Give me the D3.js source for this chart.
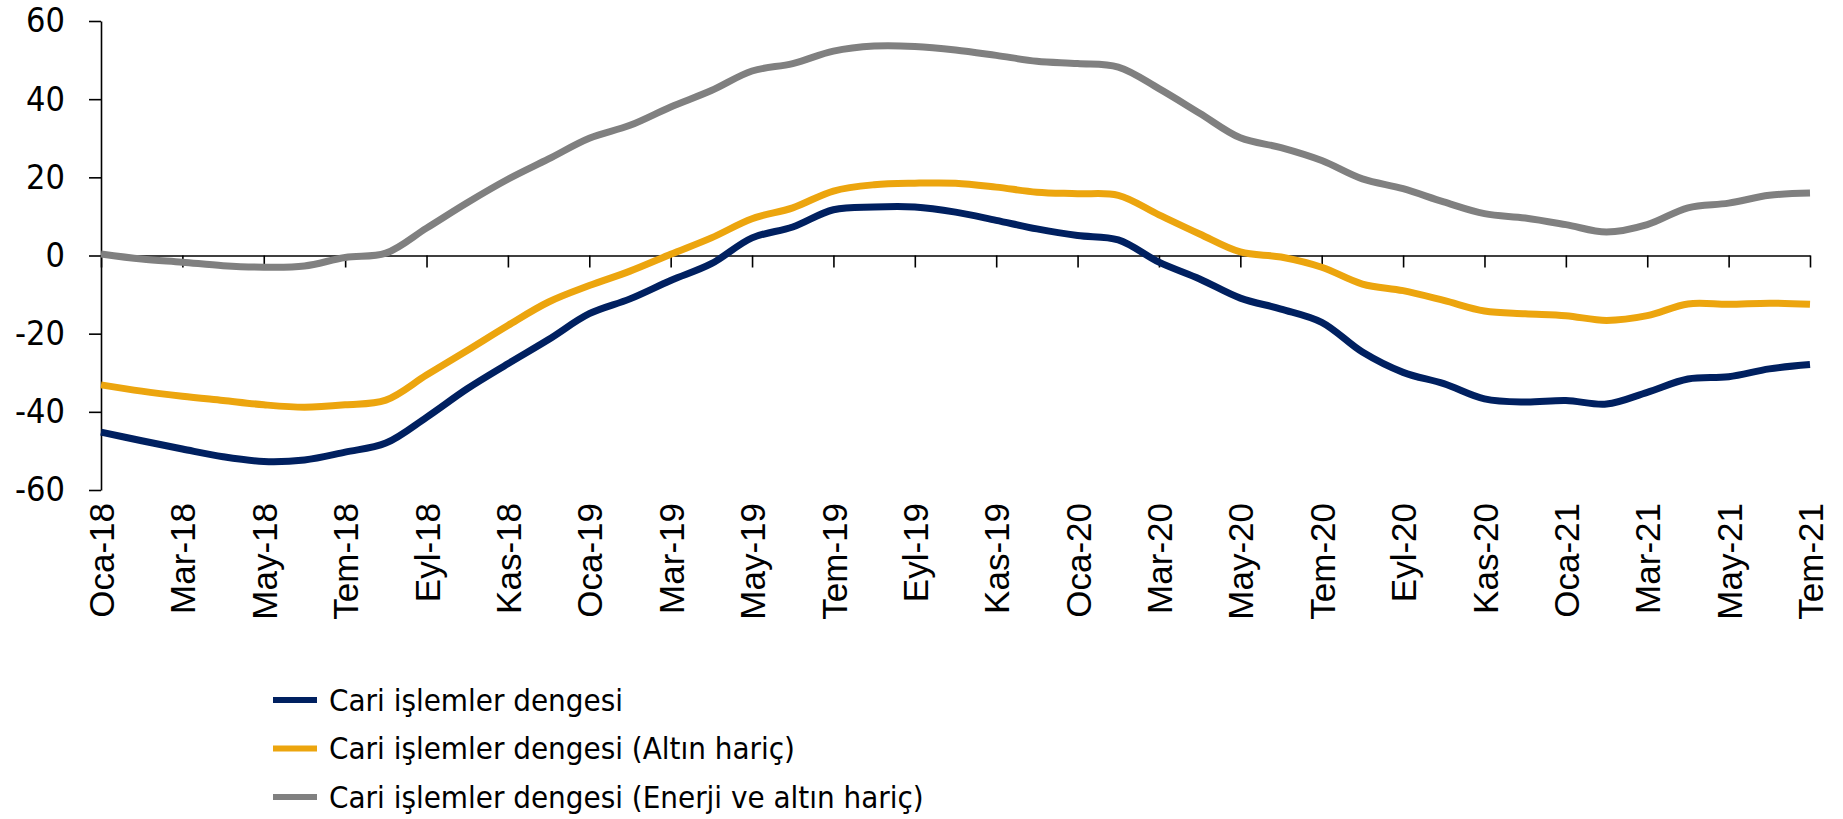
<!DOCTYPE html>
<html>
<head>
<meta charset="utf-8">
<script src="https://cdn.jsdelivr.net/npm/d3@7"></script>
<style>
  body { margin: 0; background: #fff; }
</style>
</head>
<body>
<script>
const width = 1843
const height = 819
const margin = ({top: 21, right: 33, bottom: 329, left: 101})

// monthly, Oca-18 .. Tem-21
const monthNames = ["Oca", "Şub", "Mar", "Nis", "May", "Haz", "Tem", "Ağu", "Eyl", "Eki", "Kas", "Ara"]
const months = []
for (let yr = 18; yr <= 21; yr++) {
    for (let m = 0; m < 12; m++) {
        if (yr === 21 && m > 6) break
        months.push(monthNames[m] + "-" + yr)
    }
}

const cari = [-45.2, -47.4, -49.5, -51.5, -52.7, -52.3, -50.3, -48.0, -41.4, -34.1, -27.7,
    -21.5, -14.9, -11.1, -6.4, -2.1, 4.5, 7.3, 11.7, 12.4, 12.4, 11.1, 9.0, 6.8, 5.1, 4.0,
    -1.7, -6.0, -10.9, -13.7, -17.1, -24.7, -29.9, -32.8, -36.7, -37.5, -37.1, -38.0, -35.0,
    -31.6, -31.0, -29.0, -27.9]
const altinHaric = [-33.1, -34.7, -36.0, -37.1, -38.2, -38.8, -38.2, -37.0, -30.6, -24.3, -17.9,
    -11.9, -7.7, -4.0, 0.3, 4.5, 9.4, 12.2, 16.5, 18.1, 18.5, 18.5, 17.5, 16.2, 15.8, 15.4,
    10.4, 5.5, 0.9, -0.4, -3.0, -7.3, -9.0, -11.5, -14.2, -14.9, -15.4, -16.6, -15.4,
    -12.4, -12.5, -12.2, -12.5]
const enerjiAltinHaric = [0.4, -0.9, -1.7, -2.6, -3.0, -2.7, -0.5, 0.6, 7.0, 13.5, 19.5,
    24.7, 30.0, 33.3, 38.0, 42.2, 47.2, 49.1, 52.3, 53.6, 53.5, 52.6, 51.2, 49.7, 49.1, 48.2,
    42.7, 36.4, 30.1, 27.6, 24.3, 19.6, 17.1, 13.7, 10.7, 9.6, 7.9, 6.0, 7.9,
    12.2, 13.4, 15.4, 16.0]

const seriesNames = ["Cari işlemler dengesi", "Cari işlemler dengesi (Altın hariç)", "Cari işlemler dengesi (Enerji ve altın hariç)"]
const seriesColors = ["#002060", "#eca50e", "#808080"]
const yTicks = [-60, -40, -20, 0, 20, 40, 60]

const series = [cari, altinHaric, enerjiAltinHaric]

const svg = d3.select("body").append("svg").attr("width", width).attr("height", height)

let x = d3.scalePoint()
    .domain(months)
    .range([margin.left, width - margin.right])

let y = d3.scaleLinear()
    .domain([-60, 60])
    .range([height - margin.bottom, margin.top])

const labelMonths = months.filter((d, i) => i % 2 === 0)

// y axis
svg.append("g")
    .attr("transform", `translate(${margin.left},0)`)
    .call(d3.axisLeft(y).tickValues(yTicks).tickSize(12).tickSizeOuter(0).tickPadding(24)
        .tickFormat(d => String(d)))
    .call(g => g.selectAll("line, path").attr("stroke", "#000").attr("stroke-width", 1.6))
    .call(g => g.selectAll("text")
        .attr("font-family", "'DejaVu Sans Condensed', 'DejaVu Sans', sans-serif")
        .attr("font-stretch", "condensed")
        .attr("font-size", 34)
        .attr("fill", "#000"))

// x axis line at zero with ticks
svg.append("g")
    .attr("transform", `translate(0,${y(0)})`)
    .call(d3.axisBottom(x).tickValues(labelMonths).tickSize(12).tickSizeOuter(0).tickFormat(""))
    .call(g => g.selectAll("line, path").attr("stroke", "#000").attr("stroke-width", 1.6))

// x labels below the plot
svg.append("g")
    .attr("transform", `translate(0,${y(-60)})`)
    .call(d3.axisBottom(x).tickValues(labelMonths).tickSize(0))
    .call(g => g.select(".domain").remove())
    .call(g => g.selectAll("text")
        .attr("transform", "rotate(-90)")
        .attr("text-anchor", "end")
        .attr("x", -13)
        .attr("y", 0)
        .attr("dy", "0.36em")
        .attr("font-family", "'Liberation Sans', Arial, sans-serif")
        .attr("font-size", 35)
        .attr("fill", "#000"))

let line = d3.line()
    .x((d, i) => x(months[i]))
    .y(d => y(d))
    .curve(d3.curveCatmullRom.alpha(0.5))

// draw grey first, navy last
svg.append("g")
  .selectAll("path")
  .data([2, 1, 0])
  .join("path")
    .attr("fill", "none")
    .attr("stroke", k => seriesColors[k])
    .attr("stroke-width", 7)
    .attr("stroke-linejoin", "round")
    .attr("d", k => line(series[k]))

// legend
const legend = svg.append("g")
  .selectAll("g")
  .data(seriesNames)
  .join("g")
    .attr("transform", (d, i) => `translate(273,${700 + i * 48.5})`)

legend.append("line")
    .attr("x1", 0).attr("x2", 44)
    .attr("stroke", (d, i) => seriesColors[i])
    .attr("stroke-width", 6)

legend.append("text")
    .attr("x", 56)
    .attr("dy", "0.35em")
    .attr("font-family", "'DejaVu Sans Condensed', 'DejaVu Sans', sans-serif")
    .attr("font-stretch", "condensed")
    .attr("font-size", 31)
    .attr("fill", "#000")
    .text(d => d)
</script>
</body>
</html>
